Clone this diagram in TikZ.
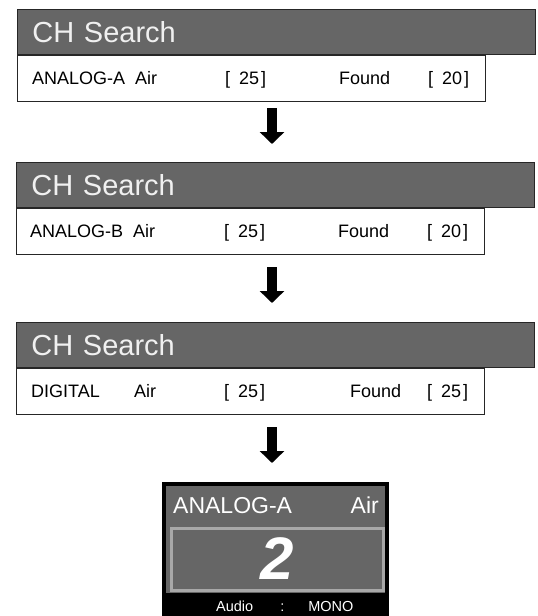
\documentclass[tikz,border=0pt]{standalone}
\usepackage{fontspec}
\setmainfont{Liberation Sans}
\usetikzlibrary{positioning}
\usepgflibrary{arrows.meta}
\definecolor{screengray}{HTML}{666666}
\definecolor{framegray}{HTML}{A8A8A8}

\begin{document}
\begin{tikzpicture}
    [x=1pt, y=-1pt,
    titlebar/.style={draw=black!85, line width=0.8pt, fill=screengray, text=white!94!black,
        minimum width=518pt, minimum height=45pt, text width=488pt, inner xsep=15pt, inner ysep=0pt,
        align=left, anchor=north west, font=\fontsize{29}{29}\selectfont},
    rowbox/.style={draw=black!85, line width=0.8pt, fill=white, minimum width=468pt,
        minimum height=46pt, inner sep=0pt, anchor=north west},
    rowtext/.style={anchor=base west, inner sep=0pt, font=\fontsize{18}{18}\selectfont},
    bigarrow/.style={line width=10pt, -{Triangle[width=24pt, length=12pt]}},
    lcdtext/.style={text=white, inner sep=0pt}]
        \useasboundingbox (0,0) rectangle (538,616);

        % first search: ANALOG-A
        \node[titlebar] (T1) at (17,9) {CH Search};
        \node[rowbox] (R1) at (T1.south west) {};
        \node[rowtext] (R1name) at ([xshift=15pt, yshift=-6.5pt]R1.west) {ANALOG-A};
        \node[rowtext] (R1air) at ([xshift=118pt, yshift=-6.5pt]R1.west) {Air};
        \node[rowtext] (R1num) at ([xshift=208pt, yshift=-6.5pt]R1.west) {[\hspace{9pt}25\hspace{2pt}]};
        \node[rowtext] (R1fnd) at ([xshift=322pt, yshift=-6.5pt]R1.west) {Found};
        \node[rowtext] (R1res) at ([xshift=411pt, yshift=-6.5pt]R1.west) {[\hspace{9pt}20\hspace{2pt}]};

        % second search: ANALOG-B
        \node[titlebar] (T2) at (16,162) {CH Search};
        \node[rowbox] (R2) at (T2.south west) {};
        \node[rowtext] (R2name) at ([xshift=14pt, yshift=-6.5pt]R2.west) {ANALOG-B};
        \node[rowtext] (R2air) at ([xshift=117pt, yshift=-6.5pt]R2.west) {Air};
        \node[rowtext] (R2num) at ([xshift=208pt, yshift=-6.5pt]R2.west) {[\hspace{9pt}25\hspace{2pt}]};
        \node[rowtext] (R2fnd) at ([xshift=322pt, yshift=-6.5pt]R2.west) {Found};
        \node[rowtext] (R2res) at ([xshift=411pt, yshift=-6.5pt]R2.west) {[\hspace{9pt}20\hspace{2pt}]};

        % third search: DIGITAL
        \node[titlebar] (T3) at (16,322) {CH Search};
        \node[rowbox] (R3) at (T3.south west) {};
        \node[rowtext] (R3name) at ([xshift=15pt, yshift=-6.5pt]R3.west) {DIGITAL};
        \node[rowtext] (R3air) at ([xshift=118pt, yshift=-6.5pt]R3.west) {Air};
        \node[rowtext] (R3num) at ([xshift=208pt, yshift=-6.5pt]R3.west) {[\hspace{9pt}25\hspace{2pt}]};
        \node[rowtext] (R3fnd) at ([xshift=334pt, yshift=-6.5pt]R3.west) {Found};
        \node[rowtext] (R3res) at ([xshift=411pt, yshift=-6.5pt]R3.west) {[\hspace{9pt}25\hspace{2pt}]};

        % arrows
        \coordinate (A1s) at (272,108);
        \coordinate (A1e) at (272,144);
        \coordinate (A2s) at (272,267);
        \coordinate (A2e) at (272,303);
        \coordinate (A3s) at (272,427);
        \coordinate (A3e) at (272,463);
        \draw[bigarrow] (A1s) -- (A1e);
        \draw[bigarrow] (A2s) -- (A2e);
        \draw[bigarrow] (A3s) -- (A3e);

        % channel display
        \node[fill=black, minimum width=227pt, minimum height=134pt, inner sep=0pt, anchor=north west] (D) at (162,482) {};
        \node[fill=screengray, minimum width=219pt, minimum height=107pt, inner sep=0pt, anchor=north west] (Dpanel) at (166,486) {};
        \node[draw=framegray, line width=3pt, fill=screengray, minimum width=212pt, minimum height=62pt,
            inner sep=0pt, anchor=north west, text=white, font=\fontsize{60}{60}\selectfont\bfseries\itshape] (Dnum) at (169.5,526.5) {2};
        \node[lcdtext, anchor=base west, font=\fontsize{23}{23}\selectfont] (Dname) at (173,513) {ANALOG-A};
        \node[lcdtext, anchor=base east, font=\fontsize{23}{23}\selectfont] (Dair) at (379,513) {Air};
        \node[lcdtext, anchor=base west, font=\fontsize{14.5}{14.5}\selectfont] (Daudio) at (216,611) {Audio\hspace{27pt}:\hspace{24pt}MONO};
   \end{tikzpicture}
\end{document}
